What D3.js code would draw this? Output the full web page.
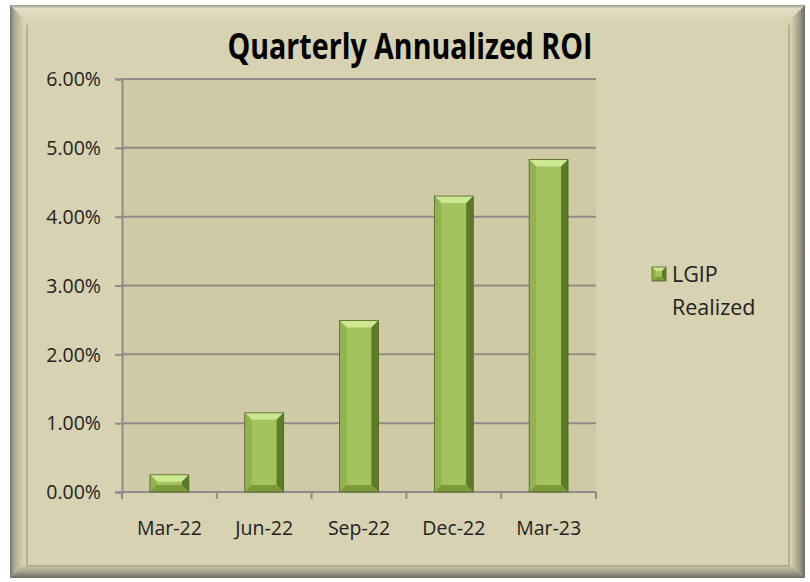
<!DOCTYPE html>
<html>
<head>
<meta charset="utf-8">
<script src="https://cdn.jsdelivr.net/npm/d3@7"></script>
<style>
  body { margin: 0; background: #ffffff; }
  svg { display: block; }
</style>
</head>
<body>
<div id="container"></div>
<script>
let w = 810;
let h = 582;

// data
let categories = ["Mar-22", "Jun-22", "Sep-22", "Dec-22", "Mar-23"];
let values = [0.25, 1.15, 2.49, 4.30, 4.83];
let yTicks = [0, 1, 2, 3, 4, 5, 6];
let seriesName = ["LGIP", "Realized"];
let title = "Quarterly Annualized ROI";

let font = "'Open Sans', 'Noto Sans', sans-serif";

let viz = d3.select("#container").append("svg")
    .attr("width", w)
    .attr("height", h)
;

let defs = viz.append("defs");

function grad(id, x1, y1, x2, y2, stops) {
  let g = defs.append("linearGradient").attr("id", id)
      .attr("x1", x1).attr("y1", y1).attr("x2", x2).attr("y2", y2);
  stops.forEach(function(s) {
    g.append("stop").attr("offset", s[0]).attr("stop-color", s[1]);
  });
}
grad("bvTop", 0, 0, 0, 1, [[0, "#9a9a8c"], [0.25, "#e2dec4"], [1, "#d9d5b6"]]);
grad("bvLeft", 0, 0, 1, 0, [[0, "#76766e"], [0.35, "#b0ad98"], [1, "#d9d5b6"]]);
grad("bvRight", 1, 0, 0, 0, [[0, "#6a6a64"], [0.4, "#a09d8a"], [1, "#d6d2b2"]]);
grad("bvBottom", 0, 1, 0, 0, [[0, "#6a6a64"], [0.4, "#a09d8a"], [1, "#d6d2b2"]]);

// chart frame
let fx0 = 10, fy0 = 5, fx1 = 805, fy1 = 578, bv = 14;
viz.append("rect")
    .attr("x", fx0).attr("y", fy0)
    .attr("width", fx1 - fx0).attr("height", fy1 - fy0)
    .attr("fill", "#d6d2b2")
;
let frame = viz.append("g").attr("class", "frame");
frame.append("polygon")
    .attr("points", [[fx0, fy0], [fx1, fy0], [fx1 - bv, fy0 + bv], [fx0 + bv, fy0 + bv]].join(" "))
    .attr("fill", "url(#bvTop)");
frame.append("polygon")
    .attr("points", [[fx0, fy0], [fx0 + bv, fy0 + bv], [fx0 + bv, fy1 - bv], [fx0, fy1]].join(" "))
    .attr("fill", "url(#bvLeft)");
frame.append("polygon")
    .attr("points", [[fx1, fy0], [fx1, fy1], [fx1 - bv, fy1 - bv], [fx1 - bv, fy0 + bv]].join(" "))
    .attr("fill", "url(#bvRight)");
frame.append("polygon")
    .attr("points", [[fx0, fy1], [fx0 + bv, fy1 - bv], [fx1 - bv, fy1 - bv], [fx1, fy1]].join(" "))
    .attr("fill", "url(#bvBottom)");
// inner edge lines
frame.append("path")
    .attr("d", "M27 25 V566 H789 V25")
    .attr("fill", "none")
    .attr("stroke", "#aaa68c")
    .attr("stroke-width", 1.5)
;

// plot area
let px0 = 122, px1 = 596, py0 = 79, py1 = 492;

let x = d3.scaleBand()
    .domain(categories)
    .range([px0, px1])
    .paddingInner(0.59)
    .paddingOuter(0.295)
;
let y = d3.scaleLinear()
    .domain([0, 6])
    .range([py1, py0])
;

viz.append("rect")
    .attr("x", px0).attr("y", py0)
    .attr("width", px1 - px0).attr("height", py1 - py0)
    .attr("fill", "#cfcaa5")
;

// gridlines
viz.append("g").selectAll("line").data(yTicks).enter()
  .append("line")
    .attr("x1", px0).attr("x2", px1)
    .attr("y1", d => y(d)).attr("y2", d => y(d))
    .attr("stroke", "#8c8c8c")
    .attr("stroke-width", 2)
;

// y axis
let yAxis = d3.axisLeft(y)
    .tickValues(yTicks)
    .tickFormat(d => d3.format(".2f")(d) + "%")
    .tickSize(7)
    .tickPadding(14)
;
let yG = viz.append("g")
    .attr("transform", "translate(" + px0 + ",0)")
    .call(yAxis);
yG.select(".domain").attr("stroke", "#8c8c8c").attr("stroke-width", 2);
yG.selectAll(".tick line").attr("stroke", "#8c8c8c").attr("stroke-width", 2);
yG.selectAll("text")
    .attr("font-family", font)
    .attr("font-size", 19.5)
    .attr("fill", "#222")
    .attr("dy", "0.35em")
;

// x axis (ticks between categories)
let xG = viz.append("g").attr("transform", "translate(0," + py1 + ")");
xG.append("line")
    .attr("x1", px0).attr("x2", px1)
    .attr("stroke", "#8c8c8c").attr("stroke-width", 2);
let step = x.step();
xG.selectAll(".xtick").data(d3.range(categories.length + 1)).enter()
  .append("line")
    .attr("class", "xtick")
    .attr("x1", i => px0 + i * step).attr("x2", i => px0 + i * step)
    .attr("y1", 0).attr("y2", 7)
    .attr("stroke", "#8c8c8c").attr("stroke-width", 2);
xG.selectAll(".xlabel").data(categories).enter()
  .append("text")
    .attr("class", "xlabel")
    .attr("x", d => x(d) + x.bandwidth() / 2)
    .attr("y", 43)
    .attr("text-anchor", "middle")
    .attr("font-family", font)
    .attr("font-size", 19.5)
    .attr("fill", "#222")
    .text(d => d)
;

// beveled bars
function bevelBar(g, bx, by, bw, bh, b) {
  let bt = Math.min(b, bh / 2);
  let x1 = bx + bw, y1 = by + bh;
  g.append("rect").attr("x", bx).attr("y", by).attr("width", bw).attr("height", bh)
      .attr("fill", "#a3c35f");
  g.append("polygon")
      .attr("points", [[bx, by], [x1, by], [x1 - b, by + bt], [bx + b, by + bt]].join(" "))
      .attr("fill", "#cce890");
  g.append("polygon")
      .attr("points", [[bx, by], [bx + b, by + bt], [bx + b, y1 - bt], [bx, y1]].join(" "))
      .attr("fill", "#93b34e");
  g.append("polygon")
      .attr("points", [[x1, by], [x1, y1], [x1 - b, y1 - bt], [x1 - b, by + bt]].join(" "))
      .attr("fill", "#5c7a27");
  g.append("polygon")
      .attr("points", [[bx, y1], [bx + b, y1 - bt], [x1 - b, y1 - bt], [x1, y1]].join(" "))
      .attr("fill", "#7c9a3c");
  g.append("rect").attr("x", bx).attr("y", by).attr("width", bw).attr("height", bh)
      .attr("fill", "none").attr("stroke", "#4e6420").attr("stroke-width", 0.8);
}

let barGroup = viz.append("g").attr("class", "bars");
categories.forEach(function(c, i) {
  let g = barGroup.append("g");
  bevelBar(g, x(c), y(values[i]), x.bandwidth(), y(0) - y(values[i]), 7);
});

// title (condensed face, like the original)
viz.append("text")
    .attr("x", 410)
    .attr("y", 59)
    .attr("text-anchor", "middle")
    .attr("font-family", font)
    .attr("font-weight", "bold")
    .attr("font-size", 35)
    .attr("textLength", 365)
    .attr("lengthAdjust", "spacingAndGlyphs")
    .attr("fill", "#000")
    .text(title)
;

// legend
let legend = viz.append("g").attr("transform", "translate(652,267)");
bevelBar(legend, 0, 0, 14, 14, 4);
legend.selectAll("text").data(seriesName).enter()
  .append("text")
    .attr("x", 20)
    .attr("y", (d, i) => 15 + i * 33)
    .attr("font-family", font)
    .attr("font-size", 21.5)
    .attr("fill", "#222")
    .text(d => d)
;
</script>
</body>
</html>
